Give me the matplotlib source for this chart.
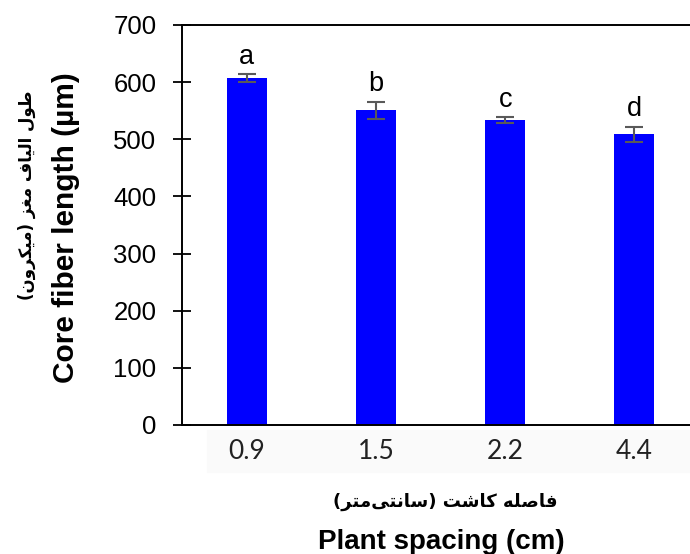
import matplotlib
matplotlib.use("Agg")
import matplotlib.pyplot as plt
from matplotlib.patches import Rectangle

plt.rcParams['font.family'] = ['Liberation Sans', 'DejaVu Sans']

# data
spacing = ['0.9', '1.5', '2.2', '4.4']
fiber_length = [607, 551, 534, 509]
fiber_err = [7, 15, 5, 13]
letters = ['a', 'b', 'c', 'd']

# Persian labels (need manual shaping, matplotlib has no bidi/shaping)
ylabel_fa = 'طول الیاف مغز (میکرون)'
xlabel_fa = 'فاصله کاشت (سانتی\u200cمتر)'

# isolated, final, initial, medial
FORMS = {
    'ا': ('\uFE8D', '\uFE8E', None, None),
    'و': ('\uFEED', '\uFEEE', None, None),
    'ر': ('\uFEAD', '\uFEAE', None, None),
    'ز': ('\uFEAF', '\uFEB0', None, None),
    'ط': ('\uFEC1', '\uFEC2', '\uFEC3', '\uFEC4'),
    'ل': ('\uFEDD', '\uFEDE', '\uFEDF', '\uFEE0'),
    'ی': ('\uFBFC', '\uFBFD', '\uFBFE', '\uFBFF'),
    'ف': ('\uFED1', '\uFED2', '\uFED3', '\uFED4'),
    'م': ('\uFEE1', '\uFEE2', '\uFEE3', '\uFEE4'),
    'غ': ('\uFECD', '\uFECE', '\uFECF', '\uFED0'),
    'ک': ('\uFB8E', '\uFB8F', '\uFB90', '\uFB91'),
    'ن': ('\uFEE5', '\uFEE6', '\uFEE7', '\uFEE8'),
    'ص': ('\uFEB9', '\uFEBA', '\uFEBB', '\uFEBC'),
    'ه': ('\uFEE9', '\uFEEA', '\uFEEB', '\uFEEC'),
    'ش': ('\uFEB5', '\uFEB6', '\uFEB7', '\uFEB8'),
    'ت': ('\uFE95', '\uFE96', '\uFE97', '\uFE98'),
    'س': ('\uFEB1', '\uFEB2', '\uFEB3', '\uFEB4'),
}


def shape(text):
    out = []
    for i, ch in enumerate(text):
        if ch not in FORMS:
            if ch != '\u200c':
                out.append(ch)
            continue
        iso, fin, ini, med = FORMS[ch]
        prev = text[i - 1] if i > 0 else None
        nxt = text[i + 1] if i + 1 < len(text) else None
        join_prev = prev in FORMS and FORMS[prev][2] is not None
        join_next = nxt in FORMS and ini is not None
        if join_prev and join_next:
            out.append(med)
        elif join_prev:
            out.append(fin)
        elif join_next:
            out.append(ini)
        else:
            out.append(iso)
    mirror = {'(': ')', ')': '('}
    return ''.join(mirror.get(c, c) for c in reversed(out))


fig = plt.figure(figsize=(6.9, 5.54), dpi=100)
# faint grey band behind the category labels (as in the source image)
fig.patches.append(Rectangle((207 / 690, 1 - 472 / 554), 1, 42 / 554,
                             transform=fig.transFigure, color='#fafafa',
                             zorder=-5))
ax = fig.add_axes([182 / 690, 129 / 554, 517 / 690, 400 / 554])
ax.patch.set_alpha(0)

x = range(len(spacing))
ax.bar(x, fiber_length, width=0.31, color='#0000ff', zorder=2)
ax.errorbar(x, fiber_length, yerr=fiber_err, fmt='none', ecolor='#595959',
            elinewidth=1.5, capsize=6.5, capthick=1.5, zorder=3)
for xi, v, e, lab in zip(x, fiber_length, fiber_err, letters):
    ax.text(xi, v + e + 18, lab, ha='center', va='baseline', fontsize=19.5)

ax.set_xlim(-0.5, 3.5)
ax.set_ylim(0, 700)
ax.set_yticks(range(0, 701, 100))
ax.tick_params(axis='y', direction='inout', length=13, width=1.3,
               labelsize=18.5, pad=12)
ax.tick_params(axis='x', length=0, pad=10)
ax.set_xticks(list(x))
ax.set_xticklabels(spacing, fontsize=19, family='Lato', color='#222222')
for s in ['left', 'bottom', 'top']:
    ax.spines[s].set_linewidth(1.4)
ax.spines['right'].set_visible(False)

fig.text(66 / 690, 1 - 228 / 554, 'Core fiber length (µm)', rotation=90,
         ha='center', va='center', fontsize=21.5, fontweight='bold')
fig.text(27 / 690, 1 - 195 / 554, shape(ylabel_fa), rotation=90,
         ha='center', va='center', fontsize=12, fontweight='bold',
         family=['DejaVu Sans'])
fig.text(441 / 690, 1 - 549 / 554, 'Plant spacing (cm)', ha='center',
         va='baseline', fontsize=20, fontweight='bold')
fig.text(445 / 690, 1 - 502 / 554, shape(xlabel_fa), ha='center',
         va='center', fontsize=13, fontweight='bold', family=['DejaVu Sans'])

fig.savefig('out.png', dpi=100)
